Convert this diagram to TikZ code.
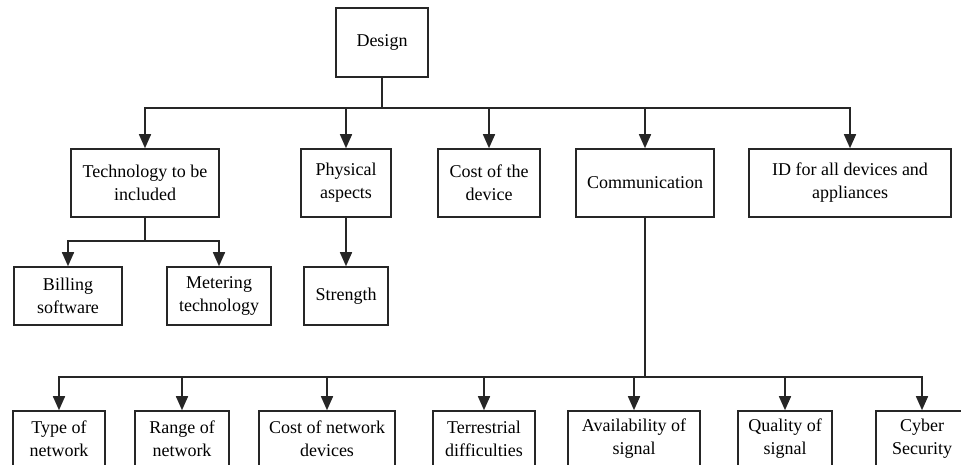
\documentclass[tikz,border=0pt]{standalone}
\usepackage{fontspec}
\setmainfont{Liberation Serif}
\usetikzlibrary{arrows.meta}
\tikzset{
  box/.style={draw=black!85, line width=1.6pt, inner sep=0pt, align=center,
    font=\fontsize{18}{23}\selectfont, text=black},
  conn/.style={draw=black!85, line width=1.6pt},
  arr/.style={conn, -{Triangle[length=14pt,width=12pt]}}
}
\begin{document}
\begin{tikzpicture}[x=1pt,y=-1pt]
\useasboundingbox (0,0) rectangle (961,465);
\clip (0,0) rectangle (961,465);
\fill[white] (0,0) rectangle (961,465);
% root
\node[box, minimum width=92pt, minimum height=69pt] (design) at (382,42.5) {Design};
% level 1
\node[box, minimum width=148pt, minimum height=68pt] (tech) at (145,183) {Technology to be\\included};
\node[box, minimum width=90pt, minimum height=68pt] (phys) at (346,183) {Physical\\aspects};
\node[box, minimum width=102pt, minimum height=68pt] (cost) at (489,183) {Cost of the\\device};
\node[box, minimum width=138pt, minimum height=68pt] (comm) at (645,183) {Communication};
\node[box, minimum width=202pt, minimum height=68pt] (id) at (850,183) {ID for all devices and\\appliances};
% level 2
\node[box, minimum width=108pt, minimum height=58pt] (bill) at (68,296) {Billing\\software};
\node[box, minimum width=104pt, minimum height=58pt] (meter) at (219,296) {Metering\\technology};
\node[box, minimum width=84pt, minimum height=58pt] (strength) at (346,296) {Strength};
% bottom row
\node[box, minimum width=92pt, minimum height=56pt] (type) at (59,439) {Type of\\network};
\node[box, minimum width=94pt, minimum height=56pt] (range) at (182,439) {Range of\\network};
\node[box, minimum width=136pt, minimum height=56pt] (costnet) at (327,439) {Cost of network\\devices};
\node[box, minimum width=102pt, minimum height=56pt] (terr) at (484,439) {Terrestrial\\difficulties};
\node[box, minimum width=132pt, minimum height=56pt] (avail) at (634,439) {Availability of\\signal};
\node[box, minimum width=94pt, minimum height=56pt] (qual) at (785,439) {Quality of\\signal};
\node[box, minimum width=92pt, minimum height=56pt] (cyber) at (922,439) {Cyber\\Security};
% bus coordinates
\coordinate (b1) at (382,108);
\coordinate (b2) at (145,241);
\coordinate (b3) at (645,377);
% connectors
\draw[conn] (design.south) -- (b1);
\draw[arr] (b1) -| (tech.north);
\draw[arr] (b1) -| (phys.north);
\draw[arr] (b1) -| (cost.north);
\draw[arr] (b1) -| (comm.north);
\draw[arr] (b1) -| (id.north);
\draw[conn] (tech.south) -- (b2);
\draw[arr] (b2) -| (bill.north);
\draw[arr] (b2) -| (meter.north);
\draw[arr] (phys.south) -- (strength.north);
\draw[conn] (comm.south) -- (b3);
\draw[arr] (b3) -| (type.north);
\draw[arr] (b3) -| (range.north);
\draw[arr] (b3) -| (costnet.north);
\draw[arr] (b3) -| (terr.north);
\draw[arr] (b3) -| (avail.north);
\draw[arr] (b3) -| (qual.north);
\draw[arr] (b3) -| (cyber.north);
\end{tikzpicture}
\end{document}
